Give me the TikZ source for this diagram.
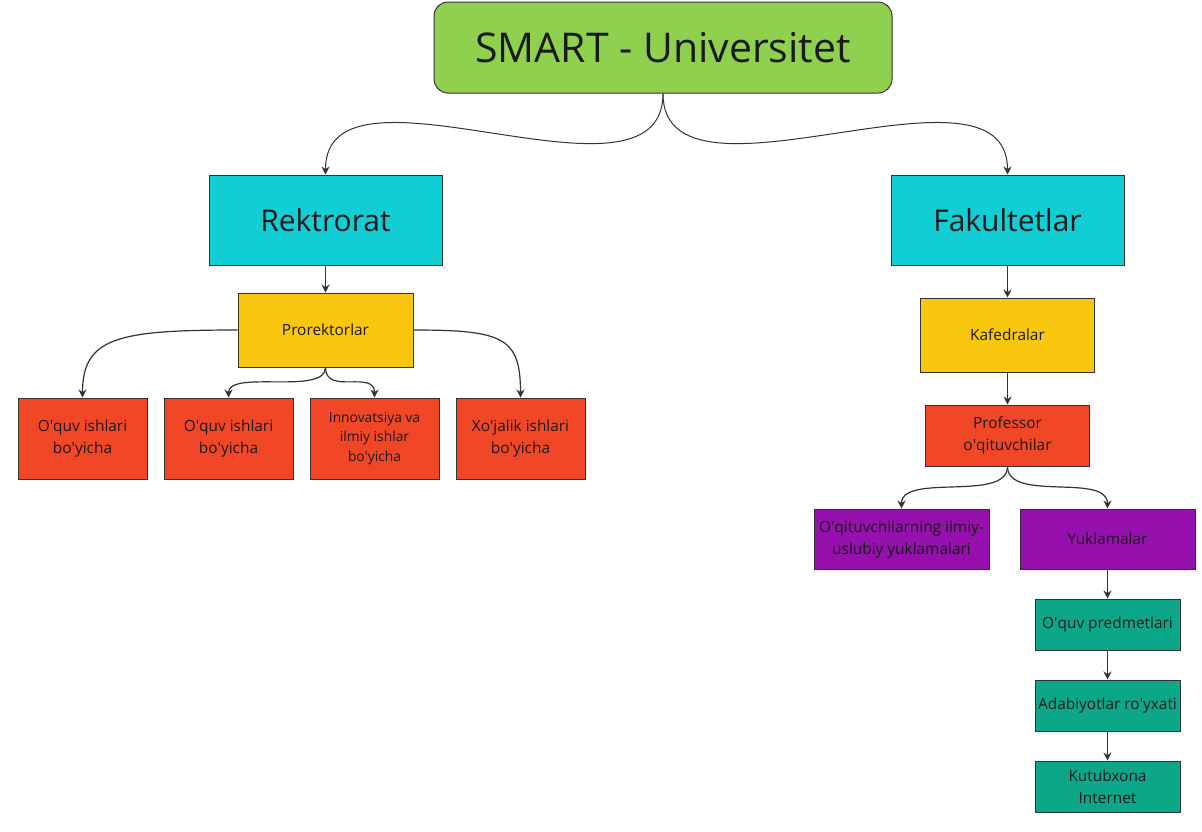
\documentclass[tikz,border=0pt]{standalone}
\usepackage{fontspec}
\setmainfont{Open Sans}
\usepackage{tikz}
\usetikzlibrary{positioning,arrows.meta}

\definecolor{mgreen}{HTML}{8FD14F}
\definecolor{mcyan}{HTML}{12CDD4}
\definecolor{myellow}{HTML}{FAC710}
\definecolor{mred}{HTML}{F24726}
\definecolor{mviolet}{HTML}{9510AC}
\definecolor{mteal}{HTML}{0CA789}
\definecolor{ink}{HTML}{1A1A1A}
\definecolor{edge}{HTML}{333333}

\newcommand{\q}{\textquotesingle}

\begin{document}
\begin{tikzpicture}[
x=1pt, y=1pt,
box/.style={rectangle, draw=edge, line width=1pt, text=ink, align=center, inner sep=2pt},
head/.style={box, rounded corners=14pt, fill=mgreen, minimum width=458pt, minimum height=91pt, font=\fontsize{41}{49}\selectfont},
unit/.style={box, fill=mcyan, minimum width=233pt, minimum height=90pt, font=\fontsize{30}{36}\selectfont},
sub/.style={box, fill=myellow, minimum width=175pt, minimum height=74pt, font=\fontsize{15.4}{22}\selectfont},
dept/.style={box, fill=mred, minimum width=129pt, minimum height=81pt, font=\fontsize{15.4}{22}\selectfont},
load/.style={box, fill=mviolet, minimum width=175pt, minimum height=60pt, font=\fontsize{15.4}{22}\selectfont},
item/.style={box, fill=mteal, minimum width=145pt, minimum height=51pt, font=\fontsize{15.4}{22}\selectfont},
link/.style={draw=edge, line width=1.2pt, -{Stealth[length=8pt,width=8pt]}}]

\useasboundingbox (0,0) rectangle (1202,-831);

% top
\node[head] (smart) at (663,-47.5) {SMART - Universitet};
\node[unit] (rek) at (325.5,-220) {Rektrorat};
\node[unit] (fak) at (1007.5,-220) {Fakultetlar};

% left branch
\node[sub] (pro) [below = 27pt of rek] {Prorektorlar};
\node[dept] (d2) at (228.5,-438.5) {O\q quv ishlari\\bo\q yicha};
\node[dept] (d1) [left = 16pt of d2] {O\q quv ishlari\\bo\q yicha};
\node[dept, font=\fontsize{13.8}{19.5}\selectfont] (d3) [right = 16pt of d2] {Innovatsiya va\\ilmiy ishlar\\bo\q yicha};
\node[dept] (d4) [right = 16pt of d3] {Xo\q jalik ishlari\\bo\q yicha};

% right branch
\node[sub, minimum width=174pt] (kaf) [below = 32pt of fak] {Kafedralar};
\node[dept, minimum width=164pt, minimum height=61pt] (prof) [below = 32pt of kaf] {Professor\\o\q qituvchilar};
\node[load] (yuk) at (1107.5,-539) {Yuklamalar};
\node[load] (ilm) [left = 30pt of yuk] {O\q qituvchilarning ilmiy-\\uslubiy yuklamalari};
\node[item] (fan) [below = 29pt of yuk] {O\q quv predmetlari};
\node[item] (adab) [below = 29pt of fan] {Adabiyotlar ro\q yxati};
\node[item] (kut) [below = 29pt of adab] {Kutubxona\\Internet};

\draw[link, line width=1pt] (smart.south) .. controls +(0,-130) and +(0,130) .. (rek.north);
\draw[link, line width=1pt] (smart.south) .. controls +(0,-130) and +(0,130) .. (fak.north);

\draw[link] (rek)--(pro);
\draw[link] (pro.west) .. controls +(-120,0) and +(0,60) .. (d1.north);
\draw[link] (pro.south) .. controls +(0,-28) and +(0,28) .. (d2.north);
\draw[link] (pro.south) .. controls +(0,-28) and +(0,28) .. (d3.north);
\draw[link] (pro.east) .. controls +(90,0) and +(0,60) .. (d4.north);

\draw[link] (fak)--(kaf);
\draw[link] (kaf)--(prof);
\draw[link] (prof.south) .. controls +(0,-36) and +(0,36) .. (ilm.north);
\draw[link] (prof.south) .. controls +(0,-36) and +(0,36) .. (yuk.north);
\draw[link] (yuk)--(fan);
\draw[link] (fan)--(adab);
\draw[link] (adab)--(kut);
\end{tikzpicture}
\end{document}
